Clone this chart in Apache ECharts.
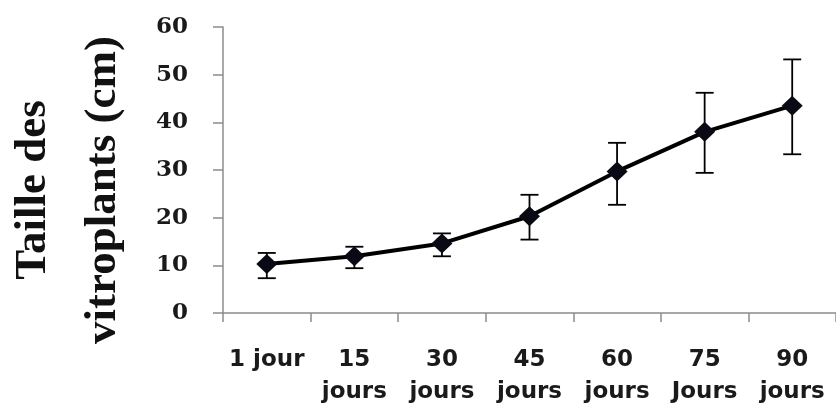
<!DOCTYPE html>
<html>
<head>
<meta charset="utf-8">
<script src="https://cdn.jsdelivr.net/npm/echarts@6/dist/echarts.min.js"></script>
<style>
html,body{margin:0;padding:0;background:#fff;}
#c{width:836px;height:408px;}
</style>
</head>
<body>
<div id="c"></div>
<script>
var categories = ['1 jour', '15\njours', '30\njours', '45\njours', '60\njours', '75\nJours', '90\njours'];
var means = [10.3, 11.9, 14.6, 20.3, 29.7, 38.0, 43.5];
var errLow = [7.3, 9.4, 11.9, 15.4, 22.7, 29.4, 33.3];
var errHigh = [12.6, 13.9, 16.7, 24.8, 35.7, 46.2, 53.2];
var yTicks = [0, 10, 20, 30, 40, 50, 60];
var yName = ['Taille des', 'vitroplants (cm)'];

var errData = categories.map(function (c, i) { return [i, errLow[i], errHigh[i]]; });

var chart = echarts.init(document.getElementById('c'), null, {renderer: 'canvas'});
chart.setOption({
  backgroundColor: '#ffffff',
  animation: false,
  grid: {left: 223, top: 27, width: 616, height: 289, containLabel: false},
  xAxis: {
    type: 'category',
    data: categories,
    boundaryGap: true,
    axisLine: {lineStyle: {color: '#8c8c8c', width: 1.5}},
    axisTick: {show: true, length: 9, lineStyle: {color: '#8c8c8c', width: 1.5}},
    axisLabel: {
      interval: 0,
      margin: 31,
      color: '#1a1a1a',
      fontFamily: 'DejaVu Sans',
      fontWeight: 'bold',
      fontSize: 23,
      lineHeight: 32
    },
    splitLine: {show: false}
  },
  yAxis: {
    type: 'value',
    min: yTicks[0],
    max: yTicks[yTicks.length - 1],
    interval: 10,
    axisLine: {show: true, lineStyle: {color: '#8c8c8c', width: 1.5}},
    axisTick: {show: true, length: 10, lineStyle: {color: '#8c8c8c', width: 1.5}},
    axisLabel: {
      margin: 35,
      color: '#1a1a1a',
      fontFamily: 'DejaVu Serif',
      fontWeight: 'bold',
      fontSize: 23
    },
    splitLine: {show: false}
  },
  graphic: [{
    type: 'text',
    x: 68,
    y: 190,
    rotation: Math.PI / 2,
    style: {
      text: yName.join('\n'),
      fill: '#111',
      font: 'bold 45px "Liberation Serif"',
      lineHeight: 70,
      align: 'center',
      verticalAlign: 'middle'
    }
  }],
  series: [{
    type: 'custom',
    data: errData,
    z: 1,
    renderItem: function (params, api) {
      var x = api.value(0);
      var lo = api.coord([x, api.value(1)]);
      var hi = api.coord([x, api.value(2)]);
      var hw = 9;
      var st = {stroke: '#000', lineWidth: 1.8, fill: null};
      return {
        type: 'group',
        children: [
          {type: 'line', shape: {x1: lo[0], y1: lo[1], x2: hi[0], y2: hi[1]}, style: st},
          {type: 'line', shape: {x1: lo[0] - hw, y1: lo[1], x2: lo[0] + hw, y2: lo[1]}, style: st},
          {type: 'line', shape: {x1: hi[0] - hw, y1: hi[1], x2: hi[0] + hw, y2: hi[1]}, style: st}
        ]
      };
    }
  }, {
    type: 'line',
    data: means,
    z: 2,
    symbol: 'diamond',
    symbolSize: [21, 20],
    lineStyle: {color: '#000', width: 4},
    itemStyle: {color: '#0a0a14', borderColor: '#0a0a14', borderWidth: 0}
  }]
});
</script>
</body>
</html>
